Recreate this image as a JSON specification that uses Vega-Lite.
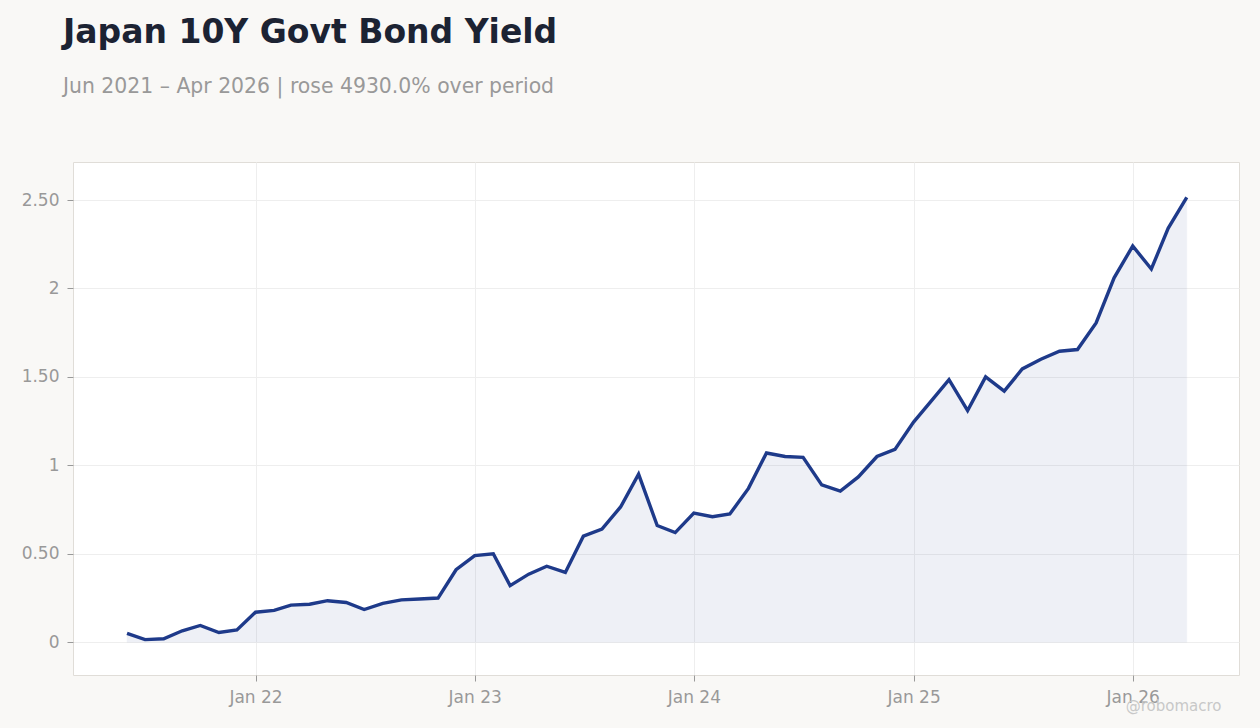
{
  "$schema": "https://vega.github.io/schema/vega-lite/v6.json",
  "autosize": {"type": "none"},
  "width": 1166,
  "height": 513,
  "padding": {"left": 73, "top": 162, "right": 21, "bottom": 53},
  "background": "#f9f8f6",
  "config": {
    "font": "DejaVu Sans",
    "view": {"fill": "#ffffff", "stroke": "#e0ddd8", "strokeWidth": 1}
  },
  "title": {
    "text": "Japan 10Y Govt Bond Yield",
    "subtitle": "Jun 2021 – Apr 2026 | rose 4930.0% over period",
    "anchor": "start",
    "frame": "group",
    "dx": -10,
    "offset": 65,
    "font": "DejaVu Sans",
    "fontSize": 33,
    "fontWeight": "bold",
    "color": "#1c2333",
    "subtitleFont": "DejaVu Sans",
    "subtitleFontSize": 20.4,
    "subtitleColor": "#999999",
    "subtitlePadding": 27
  },
  "data": {
    "values": [
      {"date": "2021-06-01", "yield": 0.05},
      {"date": "2021-07-01", "yield": 0.015},
      {"date": "2021-08-01", "yield": 0.02},
      {"date": "2021-09-01", "yield": 0.065},
      {"date": "2021-10-01", "yield": 0.095},
      {"date": "2021-11-01", "yield": 0.055},
      {"date": "2021-12-01", "yield": 0.07},
      {"date": "2022-01-01", "yield": 0.17},
      {"date": "2022-02-01", "yield": 0.18},
      {"date": "2022-03-01", "yield": 0.21},
      {"date": "2022-04-01", "yield": 0.215},
      {"date": "2022-05-01", "yield": 0.235},
      {"date": "2022-06-01", "yield": 0.225},
      {"date": "2022-07-01", "yield": 0.185},
      {"date": "2022-08-01", "yield": 0.22},
      {"date": "2022-09-01", "yield": 0.24},
      {"date": "2022-10-01", "yield": 0.245},
      {"date": "2022-11-01", "yield": 0.25},
      {"date": "2022-12-01", "yield": 0.41},
      {"date": "2023-01-01", "yield": 0.49},
      {"date": "2023-02-01", "yield": 0.5},
      {"date": "2023-03-01", "yield": 0.32},
      {"date": "2023-04-01", "yield": 0.385},
      {"date": "2023-05-01", "yield": 0.43},
      {"date": "2023-06-01", "yield": 0.395},
      {"date": "2023-07-01", "yield": 0.6},
      {"date": "2023-08-01", "yield": 0.64},
      {"date": "2023-09-01", "yield": 0.765},
      {"date": "2023-10-01", "yield": 0.95},
      {"date": "2023-11-01", "yield": 0.66},
      {"date": "2023-12-01", "yield": 0.62},
      {"date": "2024-01-01", "yield": 0.73},
      {"date": "2024-02-01", "yield": 0.71},
      {"date": "2024-03-01", "yield": 0.725},
      {"date": "2024-04-01", "yield": 0.87},
      {"date": "2024-05-01", "yield": 1.07},
      {"date": "2024-06-01", "yield": 1.05},
      {"date": "2024-07-01", "yield": 1.045},
      {"date": "2024-08-01", "yield": 0.89},
      {"date": "2024-09-01", "yield": 0.855},
      {"date": "2024-10-01", "yield": 0.935},
      {"date": "2024-11-01", "yield": 1.05},
      {"date": "2024-12-01", "yield": 1.09},
      {"date": "2025-01-01", "yield": 1.245},
      {"date": "2025-02-01", "yield": 1.37},
      {"date": "2025-03-01", "yield": 1.485},
      {"date": "2025-04-01", "yield": 1.31},
      {"date": "2025-05-01", "yield": 1.5},
      {"date": "2025-06-01", "yield": 1.42},
      {"date": "2025-07-01", "yield": 1.545},
      {"date": "2025-08-01", "yield": 1.6},
      {"date": "2025-09-01", "yield": 1.645},
      {"date": "2025-10-01", "yield": 1.655},
      {"date": "2025-11-01", "yield": 1.805},
      {"date": "2025-12-01", "yield": 2.06},
      {"date": "2026-01-01", "yield": 2.24},
      {"date": "2026-02-01", "yield": 2.11},
      {"date": "2026-03-01", "yield": 2.34},
      {"date": "2026-04-01", "yield": 2.515}
    ]
  },
  "encoding": {
    "x": {
      "field": "date",
      "type": "temporal",
      "scale": {
        "type": "utc",
        "domain": [
          {"year": 2021, "month": 3, "date": 3, "utc": true},
          {"year": 2026, "month": 6, "date": 27, "utc": true}
        ]
      },
      "axis": {
        "values": [
          {"year": 2022, "month": 1, "date": 1, "utc": true},
          {"year": 2023, "month": 1, "date": 1, "utc": true},
          {"year": 2024, "month": 1, "date": 1, "utc": true},
          {"year": 2025, "month": 1, "date": 1, "utc": true},
          {"year": 2026, "month": 1, "date": 1, "utc": true}
        ],
        "labelExpr": "utcFormat(datum.value, '%b %y')",
        "domain": false,
        "grid": true,
        "gridColor": "#eeeeee",
        "gridWidth": 1,
        "ticks": true,
        "tickColor": "#999999",
        "tickSize": 6,
        "labelColor": "#999999",
        "labelFontSize": 17,
        "labelPadding": 8,
        "title": "@robomacro",
        "titleFontSize": 15,
        "titleFontWeight": "normal",
        "titleColor": "#c8c8c8",
        "titleAlign": "right",
        "titleAnchor": "end",
        "titleX": 1148,
        "titleY": 30,
        "titleBaseline": "middle"
      }
    },
    "y": {
      "field": "yield",
      "type": "quantitative",
      "scale": {"domain": [-0.185, 2.715], "nice": false, "zero": false},
      "axis": {
        "values": [0, 0.5, 1, 1.5, 2, 2.5],
        "labelExpr": "datum.value % 1 == 0 ? format(datum.value, 'd') : format(datum.value, '.2f')",
        "domain": false,
        "grid": true,
        "gridColor": "#eeeeee",
        "gridWidth": 1,
        "ticks": true,
        "tickColor": "#999999",
        "tickSize": 6,
        "labelColor": "#999999",
        "labelFontSize": 17,
        "labelPadding": 8,
        "title": null
      }
    }
  },
  "layer": [
    {
      "mark": {"type": "area", "color": "#1e3a8a", "opacity": 0.07, "stroke": "#1e3a8a", "strokeOpacity": 0.4, "strokeWidth": 1}
    },
    {
      "mark": {"type": "line", "color": "#1e3a8a", "strokeWidth": 3.4, "strokeJoin": "miter"}
    }
  ]
}
